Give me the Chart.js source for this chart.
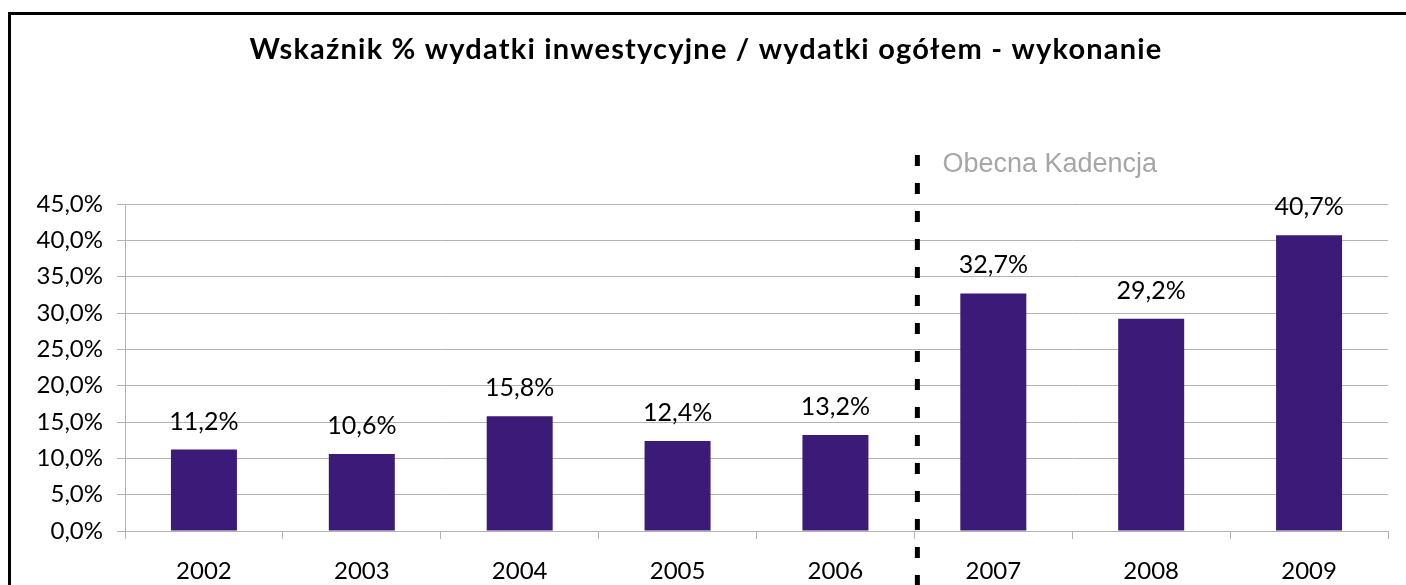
<!DOCTYPE html>
<html>
<head>
<meta charset="utf-8">
<script src="https://cdn.jsdelivr.net/npm/chart.js@4"></script>
<style>
html,body{margin:0;padding:0;background:#fff;}
#wrap{position:relative;width:1406px;height:585px;}
</style>
</head>
<body>
<div id="wrap"><canvas id="c" width="1406" height="585"></canvas></div>
<script>
const categories = ['2002','2003','2004','2005','2006','2007','2008','2009'];
const values = [11.2, 10.6, 15.8, 12.4, 13.2, 32.7, 29.2, 40.7];
const yTicks = [0, 5, 10, 15, 20, 25, 30, 35, 40, 45];
const titleText = 'Wskaźnik % wydatki inwestycyjne / wydatki ogółem - wykonanie';
const annotationText = 'Obecna Kadencja';
const dividerAfterIndex = 4; // line between 2006 and 2007

const fmt = v => v.toFixed(1).replace('.', ',') + '%';
const MAIN_FONT = 'Lato, "Open Sans", sans-serif';

const decor = {
  id: 'decor',
  beforeDraw(chart) {
    const ctx = chart.ctx;
    ctx.save();
    ctx.fillStyle = '#fff';
    ctx.fillRect(0, 0, chart.width, chart.height);
    ctx.restore();
  },
  afterDraw(chart) {
    const ctx = chart.ctx;
    const x = chart.scales.x;
    ctx.save();
    // frame
    ctx.strokeStyle = '#000';
    ctx.lineWidth = 3;
    ctx.beginPath();
    ctx.moveTo(9.5, chart.height + 5);
    ctx.lineTo(9.5, 13.5);
    ctx.lineTo(chart.width + 5, 13.5);
    ctx.stroke();
    // title
    ctx.fillStyle = '#000';
    ctx.font = 'bold 29px ' + MAIN_FONT;
    if ('letterSpacing' in ctx) ctx.letterSpacing = '1.2px';
    ctx.textAlign = 'center';
    ctx.textBaseline = 'alphabetic';
    ctx.fillText(titleText, 706, 59);
    if ('letterSpacing' in ctx) ctx.letterSpacing = '0px';
    // data labels
    ctx.font = '25px ' + MAIN_FONT;
    const meta = chart.getDatasetMeta(0);
    meta.data.forEach((bar, i) => {
      ctx.fillText(fmt(values[i]), bar.x, bar.y - 20);
    });
    // divider
    const xd = (x.getPixelForValue(dividerAfterIndex) + x.getPixelForValue(dividerAfterIndex + 1)) / 2 + 3;
    ctx.strokeStyle = '#000';
    ctx.lineWidth = 5;
    ctx.setLineDash([11, 17]);
    ctx.beginPath();
    ctx.moveTo(xd, 155);
    ctx.lineTo(xd, chart.height + 10);
    ctx.stroke();
    ctx.setLineDash([]);
    // annotation
    ctx.fillStyle = '#a6a6a6';
    ctx.font = '27px "Liberation Sans", Arial, sans-serif';
    ctx.textAlign = 'left';
    ctx.fillText(annotationText, xd + 25, 172);
    ctx.restore();
  }
};

new Chart(document.getElementById('c'), {
  type: 'bar',
  data: {
    labels: categories,
    datasets: [{
      data: values,
      backgroundColor: '#3B1A78',
      borderWidth: 0,
      categoryPercentage: 1,
      barPercentage: 0.418
    }]
  },
  options: {
    responsive: false,
    animation: false,
    devicePixelRatio: 1,
    layout: { padding: { top: 204, right: 18, left: 0, bottom: 0 } },
    plugins: { legend: { display: false }, title: { display: false }, tooltip: { enabled: false } },
    scales: {
      x: {
        grid: { offset: true, drawOnChartArea: false, drawTicks: true, tickLength: 8, color: '#b3b3b3' },
        border: { display: true, color: '#b3b3b3' },
        ticks: { color: '#000', font: { family: MAIN_FONT, size: 24 }, padding: 18 },
        afterFit(s) { s.height = 54; }
      },
      y: {
        min: 0, max: 45,
        afterBuildTicks(s) { s.ticks = yTicks.map(v => ({ value: v })); },
        grid: { color: '#b3b3b3', tickLength: 8 },
        border: { display: true, color: '#b3b3b3' },
        ticks: { color: '#000', font: { family: MAIN_FONT, size: 24 }, padding: 14, callback: v => fmt(v) },
        afterFit(s) { s.width = 125; }
      }
    }
  },
  plugins: [decor]
});
</script>
</body>
</html>
